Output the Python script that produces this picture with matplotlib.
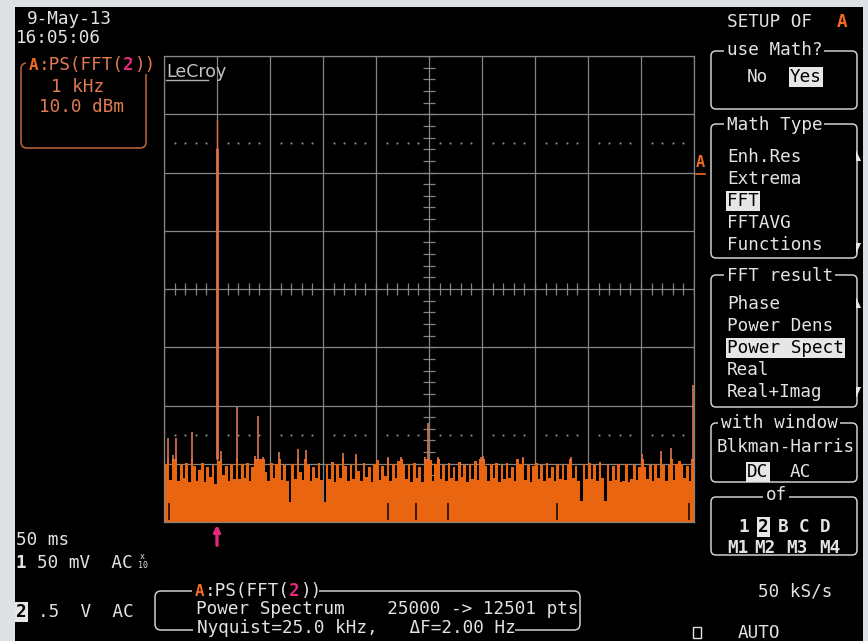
import numpy as np
import matplotlib
matplotlib.use("Agg")
import matplotlib.pyplot as plt
from matplotlib.patches import Rectangle, FancyBboxPatch, Polygon

# ---------------- spectrum data (kHz / dBm) ----------------
freq_start_khz = 0.0
freq_stop_khz = 10.0
bin_width_khz = 0.05
level_top_dbm = 10.0
level_per_div_db = 10.0
n_vdiv = 8

# peak-hold envelope of the noise floor, one value per 50 Hz bin
noise_dbm = [
    -60.0, -55.5, -62.8, -58.5, -55.6, -63.0, -60.2, -62.5, -59.8, -63.2,
    -54.6, -60.4, -62.9, -61.0, -59.9, -63.1, -60.6, -62.2, -60.3, -63.4,
    -59.6, -57.8, -62.0, -60.4, -63.0, -60.1, -62.6, -50.2, -62.7, -60.0,
    -62.4, -59.8, -63.0, -60.5, -58.6, -51.8, -59.2, -58.8, -61.5, -62.9,
    -59.8, -62.5, -60.1, -57.9, -62.8, -60.2, -63.0, -66.6, -60.0, -62.6,
    -57.5, -61.5, -62.8, -57.6, -60.2, -63.0, -60.5, -62.4, -59.9, -62.8,
    -66.5, -60.3, -62.7, -59.7, -63.2, -60.0, -62.5, -58.2, -60.4, -63.0,
    -60.2, -62.6, -58.4, -61.3, -62.9, -59.9, -62.2, -60.6, -63.1, -60.0,
    -59.4, -62.8, -60.4, -62.1, -58.9, -63.0, -60.1, -62.5, -59.6, -58.9,
    -60.2, -62.7, -60.0, -63.1, -59.8, -62.4, -60.5, -63.2, -58.8, -53.0,
    -59.4, -62.9, -60.1, -58.9, -62.6, -60.3, -63.0, -59.9, -62.4, -60.6,
    -62.9, -59.7, -62.2, -60.3, -63.1, -60.0, -62.6, -59.5, -62.8, -58.8,
    -58.7, -60.4, -63.0, -60.1, -62.5, -59.8, -63.2, -60.3, -62.7, -59.9,
    -62.4, -60.6, -63.0, -59.2, -60.1, -58.9, -62.8, -60.2, -63.1, -60.4,
    -59.8, -62.7, -60.2, -63.0, -59.9, -62.4, -60.5, -62.9, -60.0, -62.6,
    -60.3, -62.8, -60.0, -58.9, -62.5, -60.4, -63.0, -66.4, -60.1, -62.7,
    -59.9, -62.6, -60.3, -62.9, -59.7, -62.4, -66.4, -60.2, -63.0, -60.4,
    -62.8, -60.1, -63.1, -62.9, -60.0, -63.2, -62.6, -60.3, -62.8, -60.5,
    -58.4, -60.6, -62.7, -60.2, -62.9, -60.0, -62.4, -57.8, -60.2, -62.9,
    -60.3, -57.3, -62.8, -60.0, -59.6, -60.1, -62.5, -60.4, -62.9, -46.5,
]

# 1 kHz test tone
carrier_khz = 1.0
carrier_peak_dbm = -1.0
carrier_skirt_dbm = -5.8

# columns where the trace minimum lifts off the floor
gap_khz = [0.09, 4.23, 4.75, 5.36, 7.42, 9.91]
gap_top_dbm = [-66.8, -66.8, -66.8, -66.8, -66.8, -66.8]

# ---------------- screen text ----------------
date_str = "9-May-13"
time_str = "16:05:06"
trace_name = "PS(FFT("
trace_src = "2"
hor_scale = "1 kHz"
ver_scale = "10.0 dBm"
timebase = "50 ms"
ch1_text = "50 mV  AC"
ch2_text = ".5  V  AC"
info_line2 = "Power Spectrum    25000 -> 12501 pts"
info_line3 = "Nyquist=25.0 kHz,   \u0394F=2.00 Hz"
math_types = ["Enh.Res", "Extrema", "FFT", "FFTAVG", "Functions"]
fft_results = ["Phase", "Power Dens", "Power Spect", "Real", "Real+Imag"]
sources_row1 = ["1", "2", "B", "C", "D"]
sources_row2 = ["M1", "M2", "M3", "M4"]
sample_rate = "50 kS/s"
trigger_mode = "AUTO"

# ---------------- style ----------------
FONT = "DejaVu Sans Mono"
FS = 12.7
PITCH = 10.6
FG = "#e2e2e2"
GRID = "#858585"
FILL = "#e9650f"
SPIKE = "#dc7650"
CARRIER = "#e07046"
SALMON = "#e27a52"
AORANGE = "#f06a22"
MAG = "#e3287c"
BOXC = "#cfcfcf"
LBOXC = "#c4643e"

fig = plt.figure(figsize=(8.68, 6.41), dpi=100, facecolor="#dde0e4")

# bezel and black screen
bg = fig.add_axes([0, 0, 1, 1], zorder=0)
bg.set_xlim(0, 868)
bg.set_ylim(641, 0)
bg.axis("off")
bg.add_patch(Rectangle((15, 7), 848, 640, fc="#000000", ec="none"))

# ---------------- graticule + trace ----------------
ax = fig.add_axes([164 / 868, 1 - 522 / 641, 530 / 868, 466 / 641], zorder=1)
ax.set_facecolor("none")
floor_dbm = level_top_dbm - n_vdiv * level_per_div_db
ax.set_xlim(freq_start_khz, freq_stop_khz)
ax.set_ylim(floor_dbm, level_top_dbm)
ax.set_xticks(np.arange(freq_start_khz, freq_stop_khz + 0.01, 1.0))
ax.set_yticks(np.arange(floor_dbm, level_top_dbm + 0.01, level_per_div_db))
ax.tick_params(length=0, labelbottom=False, labelleft=False)
ax.grid(True, color=GRID, lw=0.9)
ax.set_axisbelow(True)
for sp in ax.spines.values():
    sp.set_color(GRID)
    sp.set_linewidth(0.9)
    sp.set_zorder(6)

# centre-cross minor ticks
x_mid = (freq_start_khz + freq_stop_khz) / 2
y_mid = (floor_dbm + level_top_dbm) / 2
dx = 6 / 53.0
dy = 6 / 58.25 * level_per_div_db
yt = np.arange(floor_dbm, level_top_dbm + 0.01, level_per_div_db / 5)
xt = np.arange(freq_start_khz, freq_stop_khz + 0.01, 0.2)
ax.hlines(yt, x_mid - dx, x_mid + dx, color=GRID, lw=0.9, zorder=1)
ax.vlines(xt, y_mid - dy, y_mid + dy, color=GRID, lw=0.9, zorder=1)

# dotted rows 2.5 div above / below centre
dot_x = np.array([v for v in xt if abs(v - round(v)) > 1e-6])
for yd in (y_mid + 2.5 * level_per_div_db, y_mid - 2.5 * level_per_div_db):
    ax.plot(dot_x, np.full_like(dot_x, yd), ls="none", marker="s", ms=1.3,
            mec="none", mfc="#9a9a9a", zorder=1)

levels = np.array(noise_dbm)
edges = freq_start_khz + bin_width_khz * np.arange(len(levels) + 1)
centers = edges[:-1] + bin_width_khz / 2
body_cap = -59.2
ax.stairs(np.minimum(levels, body_cap), edges, baseline=floor_dbm, fill=True,
          color=FILL, lw=0, zorder=2)
hi = levels > body_cap
ax.vlines(centers[hi], body_cap - 0.4, levels[hi], color=SPIKE, lw=1.2, zorder=2)
ax.vlines(gap_khz, floor_dbm + 0.3, gap_top_dbm, color="#2c1206", lw=1.3, zorder=3)

ax.vlines(carrier_khz, body_cap, carrier_skirt_dbm, color=CARRIER, lw=2.0, zorder=3)
ax.vlines(carrier_khz, carrier_skirt_dbm, carrier_peak_dbm, color=CARRIER, lw=1.0, zorder=3)

# marker arrow under the tone
ax.annotate("", xy=(carrier_khz, -0.006), xycoords=ax.get_xaxis_transform(),
            xytext=(carrier_khz, -0.05), textcoords=ax.get_xaxis_transform(),
            arrowprops=dict(arrowstyle="-|>", color=MAG, lw=2.4,
                            mutation_scale=9, shrinkA=0, shrinkB=0),
            annotation_clip=False)

# ---------------- overlay: labels and menus ----------------
ov = fig.add_axes([0, 0, 1, 1], zorder=2)
ov.set_xlim(0, 868)
ov.set_ylim(641, 0)
ov.axis("off")


def txt(x, y, s, color=FG, size=FS, weight="normal", **kw):
    return ov.text(x, y, s, fontsize=size, family=FONT, color=color,
                   ha="left", va="baseline", fontweight=weight, zorder=3, **kw)


def mask(x0, x1, y0, y1):
    # black strip that interrupts a frame line behind a caption
    ov.add_patch(Rectangle((x0, y0), x1 - x0, y1 - y0, fc="#000000", ec="none", zorder=1.5))


def masked(x, y, s, color=FG, **kw):
    mask(x - 3, x + len(s) * PITCH + 2, y - 14, y + 4)
    return txt(x, y, s, color=color, **kw)


def highlight(x, y, s):
    return txt(x, y, s, color="#000000",
               bbox=dict(boxstyle="square,pad=0.08", fc="#e6e6e6", ec="none"))


def box(x0, y0, x1, y1, color=BOXC, r=5):
    ov.add_patch(FancyBboxPatch((x0, y0), x1 - x0, y1 - y0,
                                boxstyle=f"round,pad=0,rounding_size={r}",
                                fc="none", ec=color, lw=1.1, zorder=1))


def trace_title(x, y, base_color):
    full = "A:" + trace_name + trace_src + "))"
    mask(x - 3, x + len(full) * PITCH - 3, y - 14, y + 4)
    txt(x, y, "A", color=AORANGE, weight="bold", size=FS * 0.9)
    x1 = x + 9.7
    txt(x1, y, ":" + trace_name, color=base_color)
    x2 = x1 + PITCH * (len(trace_name) + 1)
    txt(x2, y, trace_src, color=MAG, weight="bold")
    txt(x2 + PITCH, y, "))", color=base_color)


# top-left date/time
txt(27, 24, date_str)
txt(16, 43, time_str)

# trace descriptor box
box(21, 63, 146, 148, color=LBOXC, r=6)
trace_title(29, 70, SALMON)
txt(51, 92, hor_scale, color=SALMON)
txt(39, 112, ver_scale, color=SALMON)

# LeCroy logo
ov.text(166, 77, "LeCroy", fontsize=12.5, family="DejaVu Sans", color="#c4c4c4",
        ha="left", va="baseline", zorder=3)
ov.plot([166, 208], [80, 80], color="#b0b0b0", lw=1.0)

# trace level marker at right edge of graticule
ov.text(696, 167, "A", fontsize=11, family=FONT, color=AORANGE, fontweight="bold",
        ha="left", va="baseline", zorder=3)
ov.plot([696, 705], [174, 174], color=AORANGE, lw=1.2)

# bottom-left channel settings
txt(16, 545, timebase)
txt(15, 568, "1", weight="bold")
txt(37, 568, ch1_text)
txt(140, 559, "x", size=6)
txt(138, 568, "10", size=6)
txt(16, 617, "2", color="#000000", weight="bold",
    bbox=dict(boxstyle="square,pad=0.05", fc="#e6e6e6", ec="none"))
txt(38, 617, ch2_text)

# bottom info box
box(155, 591, 580, 630, r=6)
trace_title(195, 596, FG)
txt(196, 614, info_line2)
mask(193, 197 + len(info_line3) * PITCH, 625, 636)
txt(197, 633, info_line3)

# right-hand menu
txt(727, 27, "SETUP OF")
txt(837, 27, "A", color=AORANGE, weight="bold")

box(711, 51, 857, 109)
masked(727, 55, "use Math?")
txt(747, 82, "No")
highlight(790, 82, "Yes")

box(711, 124, 857, 258)
masked(727, 130, "Math Type")
for k, name in enumerate(math_types):
    yb = 162 + 22 * k
    if name == "FFT":
        highlight(727, yb, name)
    else:
        txt(727, yb, name)

box(711, 275, 857, 407)
masked(727, 281, "FFT result")
for k, name in enumerate(fft_results):
    yb = 309 + 22 * k
    if name == "Power Spect":
        highlight(727, yb, name)
    else:
        txt(727, yb, name)

# scroll indicators on the list boxes
for ytop, ybot in ((150, 243), (297, 387)):
    ov.add_patch(Polygon([(856, ytop), (856, ytop + 11), (861, ytop + 11)],
                         closed=True, fc="#e6e6e6", ec="none"))
    ov.add_patch(Polygon([(856, ybot), (861, ybot), (856, ybot + 11)],
                         closed=True, fc="#e6e6e6", ec="none"))

box(711, 423, 857, 482)
masked(721, 428, "with window")
txt(717, 452, "Blkman-Harris")
highlight(747, 477, "DC")
txt(790, 477, "AC")

box(711, 497, 857, 555)
masked(766, 500, "of")
for name, xs in zip(sources_row1, [738, 758, 778, 799, 820]):
    if name == "2":
        txt(xs, 532, name, color="#000000", weight="bold",
            bbox=dict(boxstyle="square,pad=0.05", fc="#e6e6e6", ec="none"))
    else:
        txt(xs, 532, name, weight="bold")
for name, xs in zip(sources_row2, [727, 754, 786, 819]):
    txt(xs, 553, name, weight="bold")

txt(758, 597, sample_rate)
ov.add_patch(Rectangle((693, 627), 8, 11, fc="none", ec=FG, lw=1.0))
txt(738, 638, trigger_mode)

fig.savefig("out.png", dpi=100, facecolor=fig.get_facecolor())
